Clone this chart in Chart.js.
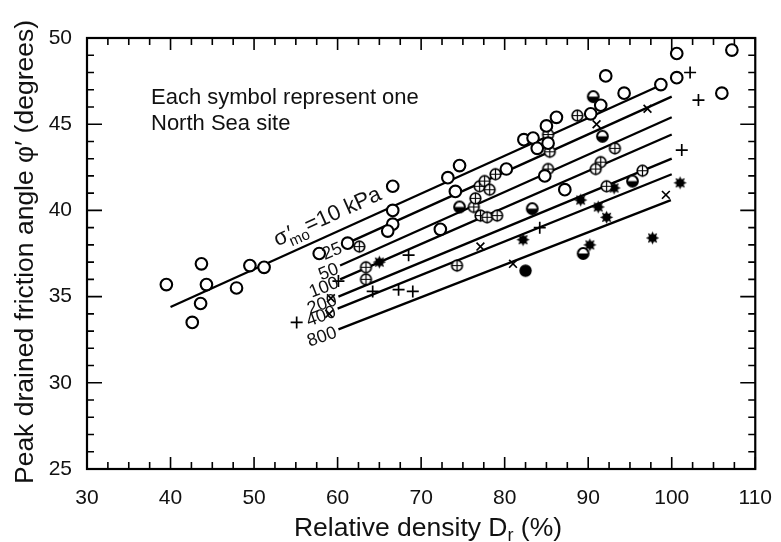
<!DOCTYPE html>
<html lang="en">
<head>
  <meta charset="UTF-8" />
  <title>Peak friction angle vs relative density</title>
  <script src="https://cdn.jsdelivr.net/npm/chart.js"></script>
  <style>
    html, body { margin: 0; padding: 0; background: #fff; }
  </style>
</head>
<body>
  <canvas id="chart" width="781" height="542"></canvas>

  <script>
    // axis ticks
    const xTicks = [30, 40, 50, 60, 70, 80, 90, 100, 110];
    const yTicks = [25, 30, 35, 40, 45, 50];

    // open circles
    const openX = [39.5, 43.7, 44.3, 43.6, 42.6, 47.9, 49.5, 51.2, 57.8, 61.2, 66.6, 66.6, 66.6, 66.0, 72.3, 73.2, 74.6, 74.1,
                   80.2, 82.3, 83.4, 83.9, 85.0, 85.2, 86.2, 84.8, 87.2, 90.3, 91.5, 92.1, 94.3, 98.7, 100.6, 100.6, 107.2, 106.0];
    const openY = [35.7, 36.9, 35.7, 34.6, 33.5, 35.5, 36.8, 36.7, 37.5, 38.1, 41.4, 40.0, 39.2, 38.8, 38.9, 41.9, 42.6, 41.1,
                   42.4, 44.1, 44.2, 43.6, 44.9, 43.9, 45.4, 42.0, 41.2, 45.6, 46.1, 47.8, 46.8, 47.3, 47.7, 49.1, 49.3, 46.8];

    // circles with a cross inside
    const ringX = [62.6, 63.4, 63.4, 74.3, 76.3, 76.5, 77.0, 77.6, 78.2, 78.9, 77.1, 77.9, 79.1, 85.2, 85.4, 85.2, 88.7, 91.5, 90.9, 93.2, 96.5, 92.2];
    const ringY = [37.9, 36.7, 36.0, 36.8, 40.2, 40.7, 41.4, 41.7, 41.2, 42.1, 39.7, 39.6, 39.7, 44.4, 43.4, 42.4, 45.5, 42.8, 42.4, 43.6, 42.3, 41.4];

    // half filled circles
    const halfX = [74.6, 83.3, 90.6, 91.7, 95.3, 89.4];
    const halfY = [40.2, 40.1, 46.6, 44.3, 41.7, 37.5];

    // filled stars
    const starX = [65.0, 82.2, 89.1, 91.2, 92.2, 93.1, 90.2, 97.7, 101.0];
    const starY = [37.0, 38.3, 40.6, 40.2, 39.6, 41.3, 38.0, 38.4, 41.6];

    // x crosses
    const crossX = [59.2, 59.0, 77.1, 81.0, 91.0, 97.1, 99.3];
    const crossY = [34.9, 34.0, 37.9, 36.9, 45.0, 45.9, 40.9];

    // plus signs
    const plusX = [60.1, 64.2, 67.3, 69.0, 68.5, 55.1, 84.2, 102.2, 103.2, 101.2];
    const plusY = [35.9, 35.3, 35.4, 35.3, 37.4, 33.5, 39.0, 48.0, 46.4, 43.5];

    // filled circle
    const dotX = [82.5];
    const dotY = [36.5];

    // sigma'mo lines (10, 25, 50, 100, 200, 400, 800 kPa)
    const lineLabels = ['10', '25', '50', '100', '200', '400', '800'];
    const lineStartX = [40.0, 60.7, 60.3, 60.3, 60.1, 60.0, 60.1];
    const lineStartY = [34.4, 38.0, 36.8, 36.0, 35.0, 34.3, 33.1];
    const lineEndX = [98.4, 100.0, 100.0, 100.0, 100.0, 100.0, 99.9];
    const lineEndY = [47.2, 46.6, 45.4, 44.4, 43.0, 42.1, 40.6];

    const noteLines = ['Each symbol represent one', 'North Sea site'];

    const FONT = '"Liberation Sans", Arial, Helvetica, sans-serif';

    function pts(xs, ys) {
      return xs.map((x, i) => ({ x: x, y: ys[i] }));
    }

    // little canvases used as point styles
    function marker(size, draw) {
      const c = document.createElement('canvas');
      c.width = size; c.height = size;
      const g = c.getContext('2d');
      g.strokeStyle = '#000';
      g.fillStyle = '#000';
      draw(g, size / 2);
      return c;
    }

    const ringMark = marker(15, (g, m) => {
      g.lineWidth = 1.7;
      g.fillStyle = '#fff';
      g.beginPath(); g.arc(m, m, 5.3, 0, Math.PI * 2); g.fill(); g.stroke();
      g.lineWidth = 1.2;
      g.beginPath();
      g.moveTo(m - 5.3, m); g.lineTo(m + 5.3, m);
      g.moveTo(m, m - 5.3); g.lineTo(m, m + 5.3);
      g.stroke();
    });

    const halfMark = marker(15, (g, m) => {
      g.fillStyle = '#fff';
      g.beginPath(); g.arc(m, m, 5.4, 0, Math.PI * 2); g.fill();
      g.fillStyle = '#000';
      g.beginPath(); g.arc(m, m, 5.4, 0, Math.PI); g.closePath(); g.fill();
      g.lineWidth = 2;
      g.beginPath(); g.arc(m, m, 5.4, 0, Math.PI * 2); g.stroke();
    });

    const starMark = marker(15, (g, m) => {
      g.beginPath();
      for (let i = 0; i < 16; i++) {
        const r = i % 2 ? 3.8 : 6.6;
        const a = i * Math.PI / 8;
        g.lineTo(m + r * Math.cos(a), m + r * Math.sin(a));
      }
      g.closePath();
      g.fill();
    });

    const dotMark = marker(15, (g, m) => {
      g.beginPath(); g.arc(m, m, 6.2, 0, Math.PI * 2); g.fill();
    });

    const lineSets = lineLabels.map((lab, i) => ({
      label: lab + ' kPa',
      data: [{ x: lineStartX[i], y: lineStartY[i] }, { x: lineEndX[i], y: lineEndY[i] }],
      showLine: true,
      pointRadius: 0,
      borderColor: '#000',
      borderWidth: 2.3,
      order: 1
    }));

    const markSets = [
      { label: 'open', data: pts(openX, openY), pointStyle: 'circle', pointRadius: 5.8,
        pointBorderWidth: 2.1, pointBorderColor: '#000', pointBackgroundColor: '#fff' },
      { label: 'ring', data: pts(ringX, ringY), pointStyle: ringMark },
      { label: 'half', data: pts(halfX, halfY), pointStyle: halfMark },
      { label: 'star', data: pts(starX, starY), pointStyle: starMark },
      { label: 'cross', data: pts(crossX, crossY), pointStyle: 'crossRot', pointRadius: 5.5,
        pointBorderWidth: 1.7, pointBorderColor: '#000' },
      { label: 'plus', data: pts(plusX, plusY), pointStyle: 'cross', pointRadius: 6,
        pointBorderWidth: 1.7, pointBorderColor: '#000' },
      { label: 'dot', data: pts(dotX, dotY), pointStyle: dotMark }
    ].map(d => Object.assign({ order: 0, pointRadius: 6 }, d));

    // frame, inward ticks and all free text
    const decor = {
      id: 'decor',
      afterDraw(chart) {
        const { ctx, chartArea: a, scales: { x, y } } = chart;
        ctx.save();
        ctx.strokeStyle = '#000';
        ctx.fillStyle = '#111';

        ctx.lineWidth = 1.6;
        for (let v = 30; v <= 110.01; v += 2.5) {
          const px = x.getPixelForValue(v);
          const len = v % 10 === 0 ? 12 : 7;
          ctx.beginPath();
          ctx.moveTo(px, a.bottom); ctx.lineTo(px, a.bottom - len);
          ctx.moveTo(px, a.top); ctx.lineTo(px, a.top + len);
          ctx.stroke();
        }
        for (let v = 25; v <= 50; v += 1) {
          const py = y.getPixelForValue(v);
          const len = v % 5 === 0 ? 15 : 7;
          ctx.beginPath();
          ctx.moveTo(a.left, py); ctx.lineTo(a.left + len, py);
          ctx.moveTo(a.right, py); ctx.lineTo(a.right - len, py);
          ctx.stroke();
        }
        ctx.lineWidth = 2.2;
        ctx.strokeRect(a.left, a.top, a.right - a.left, a.bottom - a.top);

        // note
        ctx.font = '22px ' + FONT;
        ctx.textAlign = 'left';
        ctx.textBaseline = 'alphabetic';
        noteLines.forEach((t, i) => ctx.fillText(t, 151, 104 + i * 26));

        // line labels
        lineLabels.forEach((lab, i) => {
          const x0 = x.getPixelForValue(lineStartX[i]), y0 = y.getPixelForValue(lineStartY[i]);
          const x1 = x.getPixelForValue(lineEndX[i]), y1 = y.getPixelForValue(lineEndY[i]);
          const ang = Math.atan2(y1 - y0, x1 - x0);
          ctx.save();
          if (i === 0) {
            // sigma'mo = 10 kPa, written above the first line
            const t = 0.228;
            ctx.translate(x0 + (x1 - x0) * t, y0 + (y1 - y0) * t);
            ctx.rotate(ang);
            ctx.textAlign = 'left';
            ctx.textBaseline = 'alphabetic';
            let cx = 0;
            const base = -11;
            ctx.font = '22px ' + FONT;
            ctx.fillText('\u03c3', cx, base);
            cx += ctx.measureText('\u03c3').width;
            ctx.font = '15px ' + FONT;
            ctx.fillText('mo', cx, base + 6);
            const mw = ctx.measureText('mo').width;
            ctx.font = '22px ' + FONT;
            ctx.fillText('\u2032', cx + 2, base);
            cx += mw;
            ctx.fillText('=' + lab + ' kPa', cx, base);
          } else {
            ctx.translate(x0, y0);
            ctx.rotate(ang * 0.9);
            ctx.font = '18px ' + FONT;
            ctx.textAlign = 'right';
            ctx.textBaseline = 'middle';
            ctx.fillText(lab, -3, 2);
          }
          ctx.restore();
        });

        // y title
        ctx.save();
        ctx.translate(33, 252);
        ctx.rotate(-Math.PI / 2);
        ctx.font = '26.5px ' + FONT;
        ctx.textAlign = 'center';
        ctx.textBaseline = 'alphabetic';
        ctx.fillText('Peak drained friction angle \u03c6\u2032 (degrees)', 0, 0);
        ctx.restore();

        // x title with subscript r
        const p1 = 'Relative density D', p2 = 'r', p3 = ' (%)';
        ctx.font = '26.5px ' + FONT;
        const w1 = ctx.measureText(p1).width, w3 = ctx.measureText(p3).width;
        ctx.font = '18px ' + FONT;
        const w2 = ctx.measureText(p2).width;
        let sx = 428 - (w1 + w2 + w3) / 2;
        ctx.textAlign = 'left';
        ctx.font = '26.5px ' + FONT;
        ctx.fillText(p1, sx, 536);
        ctx.font = '18px ' + FONT;
        ctx.fillText(p2, sx + w1, 541);
        ctx.font = '26.5px ' + FONT;
        ctx.fillText(p3, sx + w1 + w2, 536);

        ctx.restore();
      }
    };

    new Chart(document.getElementById('chart'), {
      type: 'scatter',
      data: { datasets: lineSets.concat(markSets) },
      options: {
        responsive: false,
        animation: false,
        layout: { padding: { top: 38, right: 9, left: 0, bottom: 0 } },
        plugins: { legend: { display: false }, tooltip: { enabled: false } },
        scales: {
          x: {
            type: 'linear', min: 30, max: 110,
            afterFit(s) { s.height = 73; },
            afterBuildTicks(s) { s.ticks = xTicks.map(v => ({ value: v })); },
            grid: { display: false }, border: { display: false },
            ticks: { padding: 9, color: '#111', font: { size: 21, family: FONT } }
          },
          y: {
            type: 'linear', min: 25, max: 50,
            afterFit(s) { s.width = 87; },
            afterBuildTicks(s) { s.ticks = yTicks.map(v => ({ value: v })); },
            grid: { display: false }, border: { display: false },
            ticks: { padding: 7, color: '#111', font: { size: 21, family: FONT } }
          }
        }
      },
      plugins: [decor]
    });
  </script>
</body>
</html>
